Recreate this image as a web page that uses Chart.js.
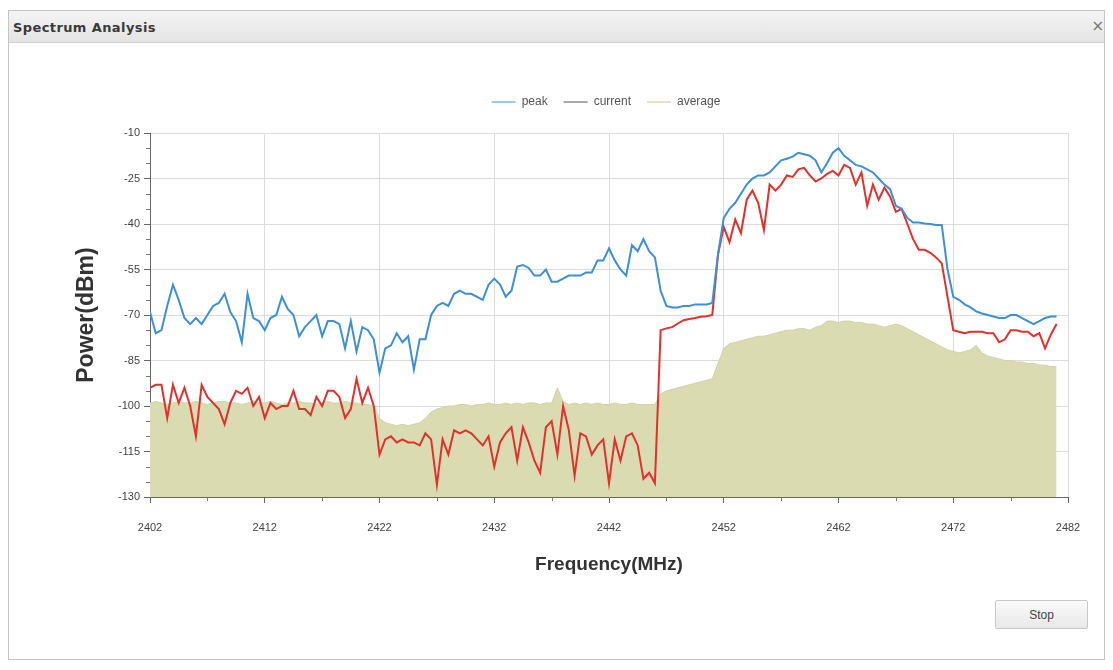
<!DOCTYPE html>
<html>
<head>
<meta charset="utf-8">
<script src="https://cdn.jsdelivr.net/npm/chart.js@4.4.0/dist/chart.umd.min.js"></script>
<style>
  body { margin: 0; width: 1113px; height: 670px; overflow: hidden; position: relative; background: #fff; font-family: "Liberation Sans", Arial, sans-serif; }
  .win { position: absolute; left: 8px; top: 10px; width: 1097px; height: 650px; border: 1px solid #c4c4c4; box-sizing: border-box; background: #fff; }
  .bar { height: 31px; background: linear-gradient(#f4f4f4, #e4e4e4); border-bottom: 1px solid #d2d2d2; position: relative; }
  .title { position: absolute; left: 4px; top: 9px; font: bold 13px "DejaVu Sans", sans-serif; color: #3a3a3a; letter-spacing: 0.4px; }
  .close { position: absolute; right: 0px; top: 6px; font: 15px "DejaVu Sans", sans-serif; color: #777; }
  #wrap { position: absolute; left: 71px; top: 80px; width: 1029px; height: 500px; }
  .stop { position: absolute; left: 995px; top: 600px; width: 93px; height: 29px; border: 1px solid #c8c8c8; background: linear-gradient(#fafafa, #e8e8e8); font: 12px "Liberation Sans", Arial, sans-serif; color: #444; border-radius: 2px; }
</style>
</head>
<body>
<div class="win">
  <div class="bar"><span class="title">Spectrum Analysis</span><span class="close">×</span></div>
</div>
<div id="wrap"><canvas id="spectrum"></canvas></div>
<button class="stop">Stop</button>
<script>
// frequency axis: one sample every 0.5 MHz from 2402
const freqStart = 2402;
const freqStep = 0.5;
const xTickLabels = [2402, 2412, 2422, 2432, 2442, 2452, 2462, 2472, 2482];
const yTickLabels = [-130, -115, -100, -85, -70, -55, -40, -25, -10];

const peak = [
  -69, -76, -75, -67, -60, -65, -71, -73, -71, -73, -70, -67, -66, -63, -69, -72, -79, -63, -71, -72,
  -75, -71, -70, -64, -68, -70, -77, -74, -72, -70, -77, -72, -72, -73, -81, -72, -82, -74, -75, -78,
  -89, -81, -80, -76, -79, -77, -88, -78, -78, -70, -67, -66,
  -67, -63, -62, -63, -63, -64, -65, -60, -58, -60, -64, -62, -54, -53.5, -54.5, -57, -57, -55, -59, -59,
  -58, -57, -57, -57, -56, -56, -52, -52, -48, -52, -55, -57, -47, -49, -45, -49, -51, -62, -67, -67.5,
  -67.5, -67, -67, -66.5, -66.5, -66.5, -66, -50,
  -38, -35, -33, -30, -27, -25, -24, -24, -23, -21, -19, -18.5, -17.8, -16.5, -17, -17.5, -19, -23, -20, -16.5,
  -15, -17.5, -19, -20.5, -21, -22, -23, -25, -27, -28.5, -34, -35, -38, -39.5, -39.5, -39.8, -40, -40.3, -40.3, -55,
  -64, -65, -66.5, -67.5, -68.8, -69.5, -70, -70.5, -71, -71, -70, -70, -71, -72, -73, -72, -71, -70.5, -70.5
];

const current = [
  -94, -93, -93, -104, -93, -99, -94, -100, -110, -93, -97, -99, -101, -106, -99, -95, -96, -94, -100, -97,
  -104, -99, -101, -100, -100, -95, -101, -101, -103, -97, -100, -95, -95, -97, -104, -101, -91, -99, -94, -100,
  -116, -111, -110, -112, -111, -112, -112, -113, -109, -111, -126, -111,
  -116, -108, -109, -108, -109, -111, -113, -110, -120, -112, -109, -107, -118, -107, -112, -118, -122, -107, -105, -116,
  -100, -108, -123, -109, -110, -116, -113, -111, -125.5, -111, -118, -110, -109, -113, -124, -122, -125.5, -75, -74.4, -74,
  -72.8, -71.7, -71.3, -71, -70.6, -70.4, -70, -50,
  -41, -46, -38.5, -43, -32, -29, -33, -42, -27, -29, -27, -24, -24.5, -22, -21.5, -24, -26, -25, -23.5, -22.5,
  -24, -20.5, -21.5, -27, -23, -34, -27, -32, -28, -31, -36, -35, -40, -45, -48.5, -48.5, -49.5, -51, -53, -64,
  -75, -75.5, -76, -75.5, -75.5, -75.5, -76, -76, -79, -78, -75, -75, -75.5, -75.5, -77, -76, -81, -76.5, -73
];

const average = [
  -99, -98.5, -99, -99.5, -99, -98.5, -99, -99, -98.5, -99, -99.5, -99, -98.5, -98.5, -99, -99, -99.5, -99, -98.5, -99,
  -99, -98.5, -99, -99.5, -99, -99, -98.5, -99, -99, -99.5, -99, -98.5, -99, -99, -98.5, -99, -99, -99.5, -99.5, -100,
  -104, -105.5, -106, -106.5, -106, -106.5, -106, -105.5, -104, -102, -101, -100.5,
  -100, -100, -99.5, -99.5, -100, -99.5, -99.5, -99, -99.5, -99.5, -99, -99.5, -99, -99.5, -99, -99, -99.5, -99, -99, -94,
  -98.5, -99.5, -99, -99.5, -99, -99.5, -99, -99.5, -99.5, -99, -99.5, -99.5, -99, -99.5, -99.5, -99.5, -99.5,
  -96, -95, -94.5, -94, -93.5, -93, -92.5, -92, -91.5, -91, -86, -81,
  -79.5, -79, -78.5, -78, -77.5, -77, -77, -76.5, -76, -75.5, -75, -75, -74.5, -74.5, -75, -74, -73.5, -72, -72, -72.5,
  -72, -72, -72.5, -72.5, -73, -73, -73.5, -74, -73.5, -73, -73.5, -74.5, -75.5, -76.5, -77.5, -78.5, -79.5, -80.5, -81.5, -82,
  -82.5, -82, -81.5, -80, -82.5, -83.5, -84, -84.5, -85, -85, -85.5, -85.5, -86, -86, -86.5, -86.5, -87, -87
];

const legendLineColors = ["#3d8fd8", "#555555", "#c9c99c"];

const toPoints = arr => arr.map((v, i) => ({ x: freqStart + i * freqStep, y: v }));

const minorTicks = {
  id: "minorTicks",
  afterDraw(chart) {
    const { ctx, scales: { x, y } } = chart;
    ctx.save();
    ctx.strokeStyle = "#777";
    ctx.lineWidth = 1;
    ctx.beginPath();
    for (let i = 0; i < xTickLabels.length - 1; i++) {
      const px = Math.round(x.getPixelForValue((xTickLabels[i] + xTickLabels[i + 1]) / 2)) + 0.5;
      ctx.moveTo(px, y.bottom);
      ctx.lineTo(px, y.bottom + 4);
    }
    for (let i = 0; i < yTickLabels.length - 1; i++) {
      for (const d of [5, 10]) {
        const py = Math.round(y.getPixelForValue(yTickLabels[i] + d)) + 0.5;
        ctx.moveTo(x.left - 4, py);
        ctx.lineTo(x.left, py);
      }
    }
    ctx.stroke();
    ctx.restore();
  }
};

const legendPlace = {
  id: "legendPlace",
  beforeInit(chart) {
    const legend = chart.legend;
    const fit = legend.fit;
    legend.fit = function () {
      fit.call(this);
      this.height = 53;
    };
  },
  afterLayout(chart) {
    const legend = chart.legend;
    const shift = (chart.chartArea.left + chart.chartArea.right) / 2 - (legend.left + legend.right) / 2 - 3;
    legend.left += shift;
    legend.right += shift;
  }
};

new Chart(document.getElementById("spectrum").getContext("2d"), {
  type: "line",
  data: {
    datasets: [{
      label: "peak",
      data: toPoints(peak),
      borderColor: "#3d8fd8",
      borderWidth: 2,
      pointRadius: 0,
      fill: false,
      tension: 0
    }, {
      label: "current",
      data: toPoints(current),
      borderColor: "#e2302c",
      borderWidth: 2,
      pointRadius: 0,
      fill: false,
      tension: 0
    }, {
      label: "average",
      data: toPoints(average),
      borderColor: "#d2d2a6",
      backgroundColor: "#dbdbb1",
      borderWidth: 1,
      pointRadius: 0,
      fill: "start",
      tension: 0
    }]
  },
  options: {
    responsive: true,
    maintainAspectRatio: false,
    animation: false,
    layout: { padding: { left: 0, right: 32, top: 0, bottom: 0 } },
    plugins: {
      tooltip: { enabled: false },
      legend: {
        position: "top",
        labels: {
          usePointStyle: true,
          pointStyle: "line",
          pointStyleWidth: 24,
          color: "#555",
          padding: 16,
          font: { family: "'Liberation Sans', Arial, sans-serif", size: 12 },
          generateLabels(chart) {
            const items = Chart.defaults.plugins.legend.labels.generateLabels(chart);
            items.forEach((item, i) => {
              item.strokeStyle = legendLineColors[i];
              item.fillStyle = legendLineColors[i];
              item.lineWidth = 1;
              item.pointStyle = "line";
            });
            return items;
          }
        }
      }
    },
    scales: {
      x: {
        type: "linear",
        min: 2402,
        max: 2482,
        afterBuildTicks(scale) {
          scale.ticks = xTickLabels.map(v => ({ value: v }));
        },
        afterFit(scale) { scale.height = 83; },
        grid: { color: "#dcdcdc", tickColor: "#666", tickLength: 6 },
        border: { color: "#666" },
        ticks: {
          color: "#444",
          padding: 18,
          maxRotation: 0,
          font: { family: "'Liberation Sans', Arial, sans-serif", size: 11 },
          callback: v => String(v)
        },
        title: {
          display: true,
          text: "Frequency(MHz)",
          color: "#333",
          padding: 4,
          font: { family: "'Liberation Sans', Arial, sans-serif", size: 19, weight: "bold" }
        }
      },
      y: {
        min: -130,
        max: -10,
        afterBuildTicks(scale) {
          scale.ticks = yTickLabels.map(v => ({ value: v }));
        },
        afterFit(scale) { scale.width = 79; },
        grid: { color: "#dcdcdc", tickColor: "#666", tickLength: 6 },
        border: { color: "#666" },
        ticks: {
          color: "#444",
          padding: 4,
          font: { family: "'Liberation Sans', Arial, sans-serif", size: 11 }
        },
        title: {
          display: true,
          text: "Power(dBm)",
          color: "#333",
          padding: 2,
          font: { family: "'Liberation Sans', Arial, sans-serif", size: 23, weight: "bold" }
        }
      }
    }
  },
  plugins: [minorTicks, legendPlace]
});
</script>
</body>
</html>
